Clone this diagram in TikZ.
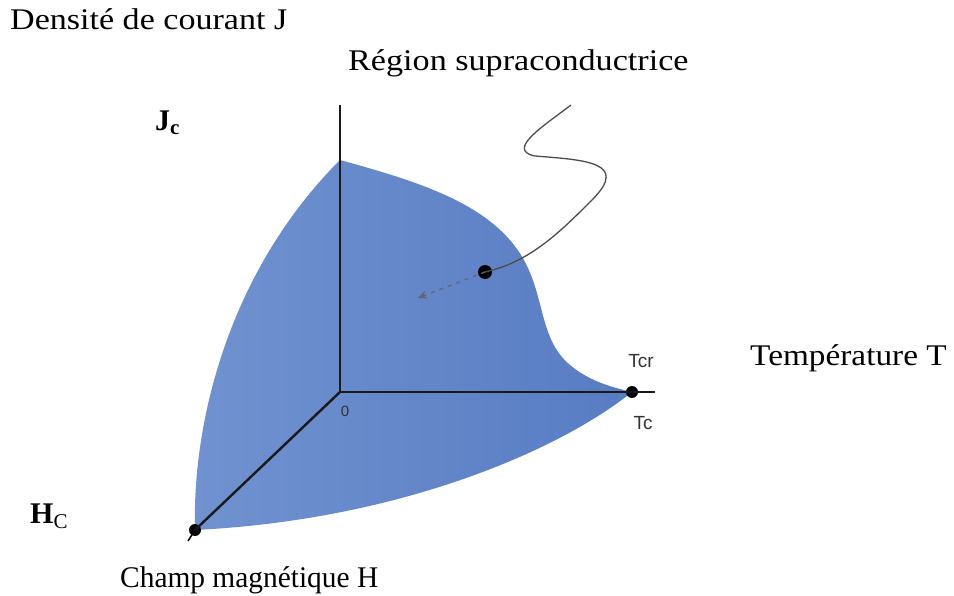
\documentclass[tikz,border=0pt]{standalone}
\usepackage{fontspec}
\setmainfont{Liberation Serif}
\newfontfamily\lblsans{Liberation Sans}
\usetikzlibrary{arrows.meta}
\definecolor{supralight}{RGB}{112,146,208}
\definecolor{supradark}{RGB}{88,124,195}
\tikzset{
  axisline/.style={line width=2.4pt, black!90},
  bigtxt/.style={font=\fontsize{30}{33}\selectfont, inner sep=0pt},
  smalltxt/.style={font=\lblsans\fontsize{19}{21}\selectfont, inner sep=0pt, text=black!80},
  dotmark/.style={circle, fill=black, inner sep=0pt, minimum size=12pt},
}
\begin{document}
\begin{tikzpicture}[x=1pt,y=-1pt]
\useasboundingbox (0,0) rectangle (954,596);
% superconducting region
\path[left color=supralight, right color=supradark, shading angle=90]
  (340,160)
  .. controls (420,182) and (495,205) .. (525,262)
  .. controls (545,300) and (540,340) .. (570,365)
  .. controls (590,382) and (615,388) .. (632,392)
  .. controls (560,450) and (400,520) .. (195,530)
  .. controls (192,420) and (230,270) .. (340,160) -- cycle;
% axes
\coordinate (O) at (340,392);
\coordinate (Jtop) at (340,105);
\coordinate (Tend) at (655,392);
\coordinate (Htick) at (188,541);
\node[dotmark] (Tc) at (632,392) {};
\node[dotmark] (Hc) at (195,530) {};
\draw[axisline] (Jtop) -- (O) -- (Tend);
\draw[axisline] (O) -- (Hc.center);
\draw[line width=1.5pt] (Hc.center) -- (Htick);
% curve to region
\node[dotmark, minimum size=14pt] (P) at (485,272) {};
\coordinate (S) at (571,105);
\coordinate (A) at (418,298);
\draw[line width=1.3pt, black!70]
  (S) .. controls (545,125) and (505,150) .. (535,156)
  .. controls (585,160) and (630,162) .. (592,200)
  .. controls (560,232) and (530,262) .. (P.center);
\draw[line width=1.2pt, black!60, dashed, dash pattern=on 4pt off 5pt, -{Stealth[length=9pt,width=8pt]}] (P.center) -- (A);
% labels
\node[bigtxt, anchor=base west] (Jlab) at (10,30) {\scalebox{1.135}[1]{Densité de courant J}};
\node[bigtxt, anchor=base west] (Rlab) at (348,71) {\scalebox{1.138}[1]{Région supraconductrice}};
\node[bigtxt, anchor=base west] (Tlab) at (750,366) {\scalebox{1.11}[1]{Température T}};
\node[bigtxt, anchor=base west] (Hlab) at (120,587) {\scalebox{0.98}[1]{Champ magnétique H}};
\node[bigtxt, anchor=base west] (Jc) at (155,131) {\textbf{J\textsubscript{c}}};
\node[bigtxt, anchor=base west] (HC) at (30,523) {\textbf{H}\textsubscript{C}};
\node[smalltxt] (Tcr) at (641,361) {Tcr};
\node[smalltxt] (Tclab) at (643,423) {Tc};
\node[smalltxt, font=\lblsans\fontsize{15}{17}\selectfont] (zero) at (345,411) {0};
\end{tikzpicture}
\end{document}
